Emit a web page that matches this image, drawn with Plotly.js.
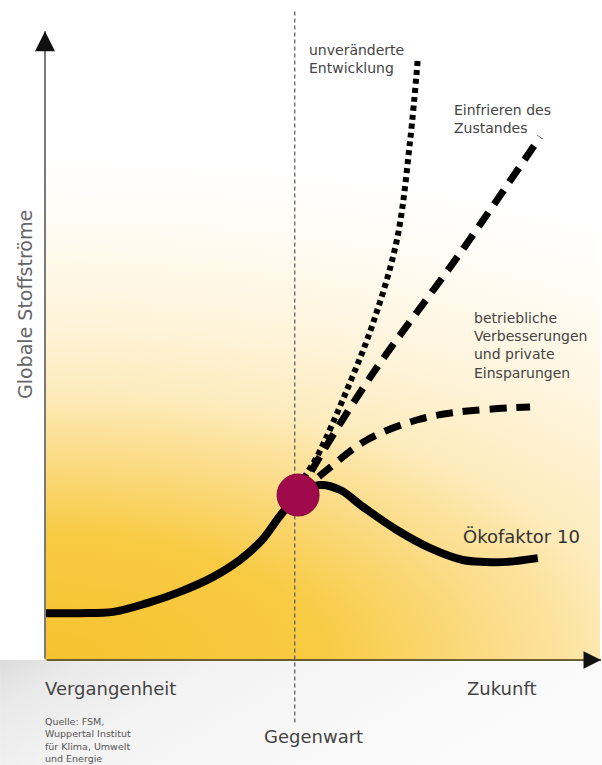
<!DOCTYPE html>
<html>
<head>
<meta charset="utf-8">
<script src="https://cdn.plot.ly/plotly-3.0.1.min.js"></script>
<style>html,body{margin:0;padding:0;background:#fff;}#chart{width:602px;height:765px;}</style>
</head>
<body>
<div id="chart"></div>
<script>
// Conceptual scenario curves (time axis 0..100, material flows 0..100)
const oekoX = [0, 6.3, 12.3, 18.4, 24.3, 30.3, 35.1, 39.1, 42.3, 45.6, 49.5, 53.2, 57.3, 63.4, 69.4, 75.3, 79.3, 83.2, 88.8];
const oekoY = [7.5, 7.5, 7.7, 9.1, 10.9, 13.3, 16.0, 19.2, 23.0, 26.4, 28.0, 27.2, 24.5, 20.8, 17.9, 16.0, 15.7, 15.7, 16.3];
const trendX = [45.6, 46.5, 49.0, 54.4, 59.1, 63.4, 65.8, 67.2];
const trendY = [26.4, 28.8, 32.5, 43.2, 53.9, 67.2, 83.2, 96.5];
const freezeX = [45.6, 49.5, 59.1, 74.8, 89.2];
const freezeY = [26.4, 32.5, 45.9, 65.1, 83.7];
const improveX = [45.6, 50.8, 58.0, 67.0, 74.8, 87.4];
const improveY = [26.4, 30.4, 35.2, 38.4, 39.7, 40.5];
const presentX = [45.6];
const presentY = [26.4];
const presentLineX = 45.0;

const labelTrend = "unveränderte<br>Entwicklung";
const labelFreeze = "Einfrieren des<br>Zustandes";
const labelImprove = "betriebliche<br>Verbesserungen<br>und private<br>Einsparungen";
const labelOeko = "Ökofaktor 10";
const yTitle = "Globale Stoffströme";
const timeLabels = ["Vergangenheit", "Gegenwart", "Zukunft"];
const sourceText = "Quelle: FSM,<br>Wuppertal Institut<br>für Klima, Umwelt<br>und Energie";

const F = "DejaVu Sans, Verdana, sans-serif";

const gradSvg = "<svg xmlns='http://www.w3.org/2000/svg' width='555' height='625' viewBox='0 0 555 625' preserveAspectRatio='none'>" +
  "<defs><radialGradient id='g' gradientUnits='userSpaceOnUse' cx='0' cy='0' r='1' gradientTransform='translate(0 625) scale(1100 500)'>" +
  "<stop offset='0' stop-color='#f6c22f'/><stop offset='0.255' stop-color='#f8cb44'/><stop offset='0.41' stop-color='#fbdc88'/>" +
  "<stop offset='0.473' stop-color='#fce3a0'/><stop offset='0.53' stop-color='#fdebbb'/><stop offset='0.68' stop-color='#fef4da'/>" +
  "<stop offset='0.86' stop-color='#fffbf2'/><stop offset='1' stop-color='#ffffff'/>" +
  "</radialGradient></defs><rect width='555' height='625' fill='url(#g)'/></svg>";
const floorSvg = "<svg xmlns='http://www.w3.org/2000/svg' width='602' height='105' viewBox='0 0 602 105' preserveAspectRatio='none'>" +
  "<defs><linearGradient id='h' x1='0' y1='0' x2='1' y2='0.3'>" +
  "<stop offset='0' stop-color='#dcdcdc'/><stop offset='0.12' stop-color='#e9e9e9'/><stop offset='0.35' stop-color='#f3f3f3'/>" +
  "<stop offset='0.7' stop-color='#f8f8f8'/><stop offset='1' stop-color='#fbfbfb'/></linearGradient></defs>" +
  "<rect width='602' height='105' fill='url(#h)'/></svg>";
const toUri = s => "data:image/svg+xml;charset=utf-8," + encodeURIComponent(s);

const traces = [
  {x: improveX, y: improveY, mode: "lines", line: {color: "#000", width: 7, dash: "17px,10px", shape: "spline"}, hoverinfo: "skip"},
  {x: freezeX, y: freezeY, mode: "lines", line: {color: "#000", width: 7, dash: "17px,10px", shape: "spline"}, hoverinfo: "skip"},
  {x: trendX, y: trendY, mode: "lines", line: {color: "#000", width: 6, dash: "5px,4px", shape: "spline"}, hoverinfo: "skip"},
  {x: oekoX, y: oekoY, mode: "lines", line: {color: "#000", width: 8, shape: "spline", smoothing: 1}, hoverinfo: "skip"},
  {x: presentX, y: presentY, mode: "markers", marker: {size: 42, color: "#a00a4c", line: {color: "#7d0a3a", width: 1}}, hoverinfo: "skip"}
];

const ann = [
  {text: labelTrend, x: 0.472, y: 0.992, xanchor: "left", yanchor: "top", align: "left", font: {size: 14, color: "#444"}},
  {text: labelFreeze, x: 0.733, y: 0.896, xanchor: "left", yanchor: "top", align: "left", font: {size: 14, color: "#444"}},
  {text: labelImprove, x: 0.769, y: 0.563, xanchor: "left", yanchor: "top", align: "left", font: {size: 14, color: "#444"}},
  {text: labelOeko, x: 0.749, y: 0.198, xanchor: "left", yanchor: "middle", align: "left", font: {size: 18, color: "#333"}},
  {text: yTitle, x: -0.036, y: 0.568, xanchor: "center", yanchor: "middle", textangle: -90, font: {size: 19, color: "#666"}},
  {text: timeLabels[0], x: -0.004, y: -0.045, xanchor: "left", yanchor: "middle", font: {size: 18, color: "#444"}},
  {text: timeLabels[1], x: 0.483, y: -0.123, xanchor: "center", yanchor: "middle", font: {size: 18, color: "#444"}},
  {text: timeLabels[2], x: 0.757, y: -0.045, xanchor: "left", yanchor: "middle", font: {size: 18, color: "#444"}},
  {text: sourceText, x: -0.004, y: -0.087, xanchor: "left", yanchor: "top", align: "left", font: {size: 9.5, color: "#555"}}
].map(a => Object.assign({xref: "paper", yref: "paper", showarrow: false}, a, {font: Object.assign({family: F}, a.font)}));

// axis arrows
ann.push({xref: "paper", yref: "paper", x: 0, y: 1.006, ax: 0, ay: 629, text: "", showarrow: true, arrowhead: 0, arrowwidth: 2, arrowcolor: "#7a7a7a"});
ann.push({xref: "paper", yref: "paper", x: 0, y: 1.006, ax: 0, ay: 10, text: "", showarrow: true, arrowhead: 2, arrowsize: 1.6, arrowwidth: 2.5, arrowcolor: "#111"});
ann.push({xref: "paper", yref: "paper", x: 1.002, y: 0, ax: -556, ay: 0, text: "", showarrow: true, arrowhead: 0, arrowwidth: 2, arrowcolor: "#6b6130"});
ann.push({xref: "paper", yref: "paper", x: 1.002, y: 0, ax: -10, ay: 0, text: "", showarrow: true, arrowhead: 2, arrowsize: 1.4, arrowwidth: 2.5, arrowcolor: "#111"});

const layout = {
  width: 602, height: 765,
  margin: {l: 45, r: 2, t: 35, b: 105, pad: 0},
  paper_bgcolor: "#ffffff",
  plot_bgcolor: "rgba(0,0,0,0)",
  showlegend: false,
  xaxis: {range: [0, 100], visible: false, fixedrange: true},
  yaxis: {range: [0, 100], visible: false, fixedrange: true},
  images: [
    {source: toUri(floorSvg), xref: "paper", yref: "paper", x: -0.081, y: 0, sizex: 1.085, sizey: 0.168, sizing: "stretch", xanchor: "left", yanchor: "top", layer: "below"},
    {source: toUri(gradSvg), xref: "paper", yref: "paper", x: 0, y: 1, sizex: 1, sizey: 1, sizing: "stretch", xanchor: "left", yanchor: "top", layer: "below"}
  ],
  shapes: [
    {type: "line", xref: "x", yref: "paper", x0: presentLineX, x1: presentLineX, y0: -0.1, y1: 1.04, line: {color: "#555", width: 1.2, dash: "4px,3px"}, layer: "below"}
  ],
  annotations: ann
};

Plotly.newPlot("chart", traces, layout, {displayModeBar: false, staticPlot: true});
</script>
</body>
</html>
